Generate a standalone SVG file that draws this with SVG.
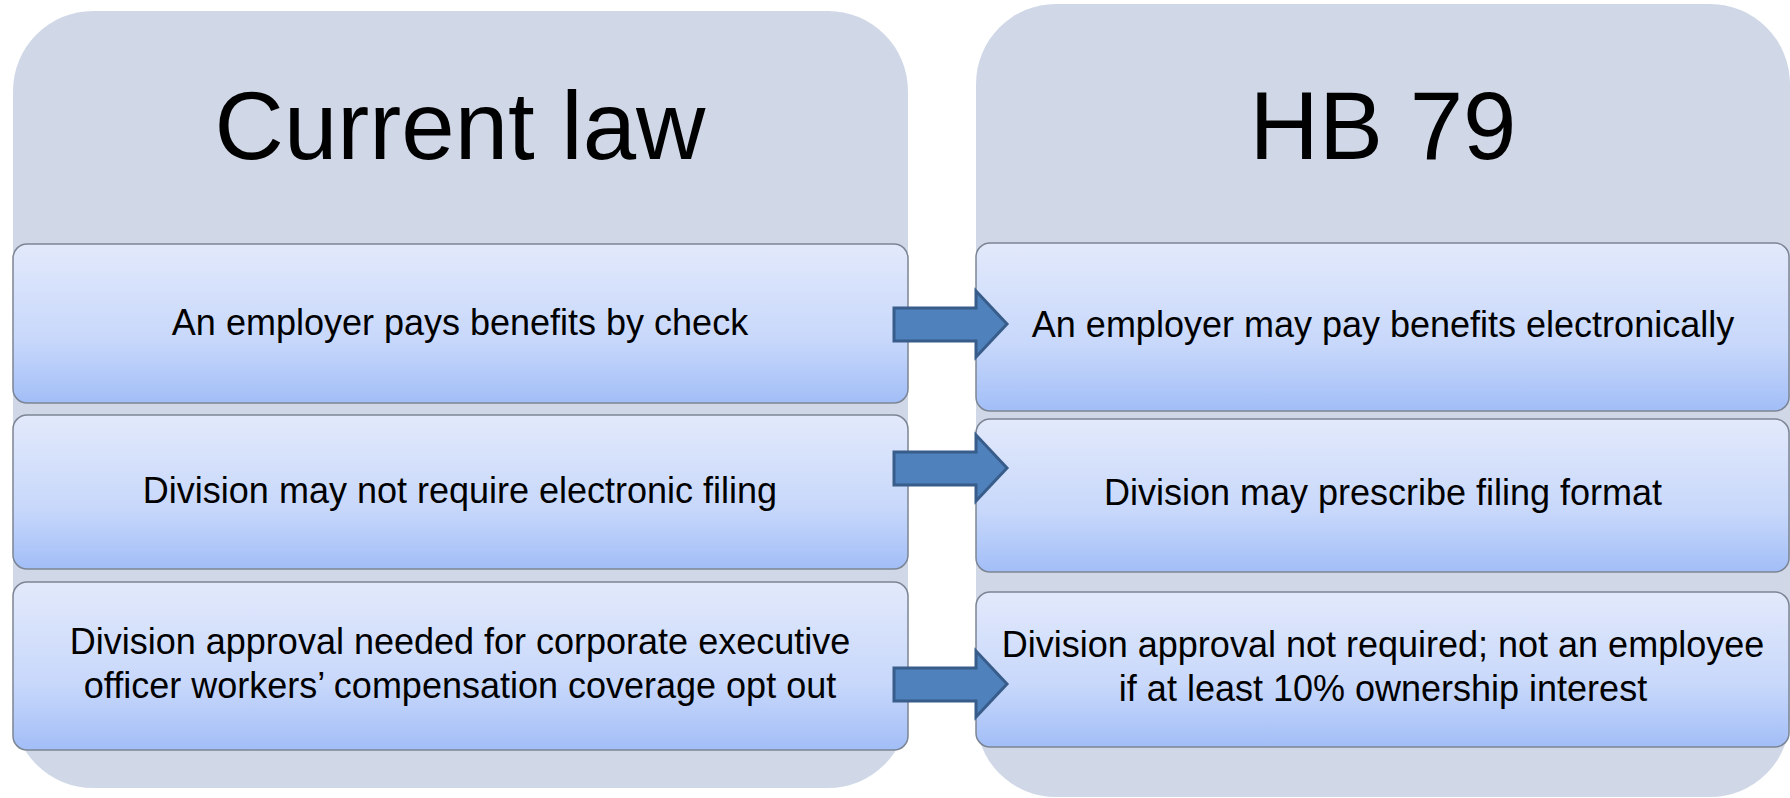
<svg xmlns="http://www.w3.org/2000/svg" width="1790" height="798" viewBox="0 0 1790 798">
<defs>
<linearGradient id="boxg" x1="0" y1="0" x2="0" y2="1">
<stop offset="0" stop-color="#e2e9fb"/>
<stop offset="0.6" stop-color="#c8d8fb"/>
<stop offset="1" stop-color="#a2bef7"/>
</linearGradient>
<style>
.panel{fill:#d0d8e8;}
.box{fill:url(#boxg);stroke:#7c8593;stroke-width:1.5;}
.title{font-family:"Liberation Sans",Arial,sans-serif;font-size:96px;fill:#000;text-anchor:middle;}
.txt{font-family:"Liberation Sans",Arial,sans-serif;font-size:36px;fill:#000;text-anchor:middle;}
.arrow{fill:#4f81bd;stroke:#385d8a;stroke-width:3;stroke-linejoin:miter;}
</style>
</defs>
<rect width="1790" height="798" fill="#ffffff"/>
<g id="panel-current">
<rect class="panel" x="13" y="11" width="895" height="777" rx="80" ry="80"/>
<text class="title" x="460" y="159">Current law</text>
</g>
<g id="panel-hb79">
<rect class="panel" x="976" y="4" width="814" height="793" rx="80" ry="80"/>
<text class="title" x="1383" y="159">HB 79</text>
</g>
<g id="node-l1">
<rect class="box" x="13" y="244" width="895" height="159" rx="14" ry="14"/>
<text class="txt" x="460" y="335">An employer pays benefits by check</text>
</g>
<g id="node-l2">
<rect class="box" x="13" y="415" width="895" height="154" rx="14" ry="14"/>
<text class="txt" x="460" y="503">Division may not require electronic filing</text>
</g>
<g id="node-l3">
<rect class="box" x="13" y="582" width="895" height="168" rx="14" ry="14"/>
<text class="txt" x="460" y="654">Division approval needed for corporate executive</text>
<text class="txt" x="460" y="698">officer workers’ compensation coverage opt out</text>
</g>
<g id="node-r1">
<rect class="box" x="976" y="243" width="813" height="168" rx="14" ry="14"/>
<text class="txt" x="1383" y="337">An employer may pay benefits electronically</text>
</g>
<g id="node-r2">
<rect class="box" x="976" y="419" width="813" height="153" rx="14" ry="14"/>
<text class="txt" x="1383" y="505">Division may prescribe filing format</text>
</g>
<g id="node-r3">
<rect class="box" x="976" y="592" width="813" height="155" rx="14" ry="14"/>
<text class="txt" x="1383" y="657">Division approval not required; not an employee</text>
<text class="txt" x="1383" y="701">if at least 10% ownership interest</text>
</g>
<g id="connectors">
<polygon class="arrow" points="894,308 976,308 976,291 1007,324 976,357 976,341 894,341"/>
<polygon class="arrow" points="894,452 976,452 976,435 1007,468 976,501 976,485 894,485"/>
<polygon class="arrow" points="894,668 976,668 976,651 1007,684 976,717 976,701 894,701"/>
</g>
</svg>
